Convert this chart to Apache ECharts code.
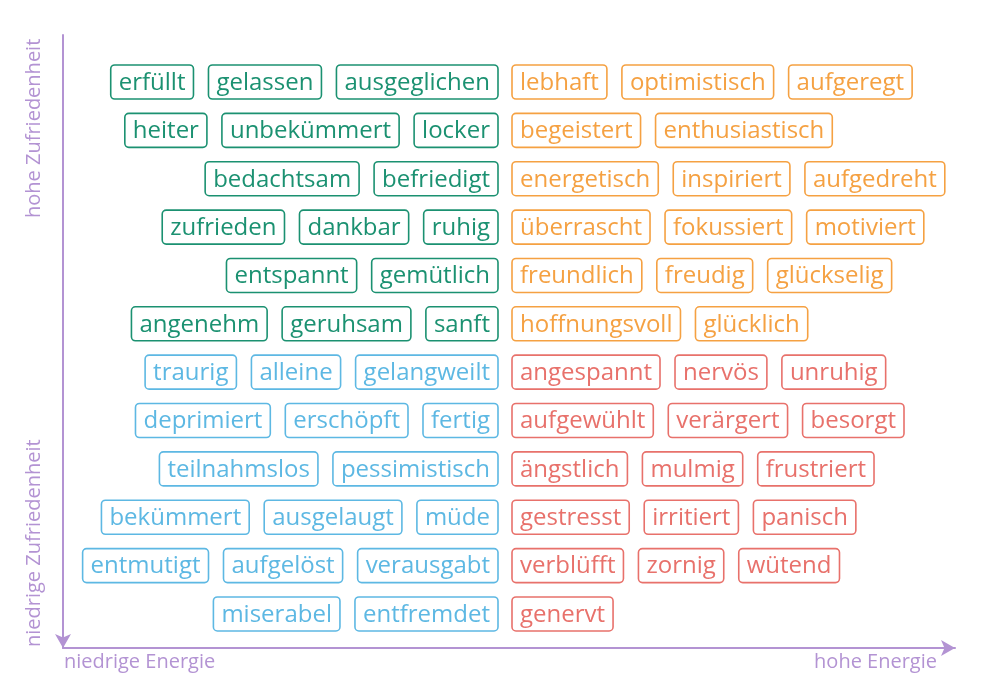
<!DOCTYPE html>
<html><head><meta charset="utf-8">
<script src="https://cdn.jsdelivr.net/npm/echarts@6/dist/echarts.min.js"></script>
<style>html,body{margin:0;background:#fff}#c{width:1000px;height:700px}</style>
</head><body><div id="c"></div>
<script>
// rows top to bottom: words left of centre (low energy), words right of centre (high energy)
var leftRows = [
  ['erfüllt', 'gelassen', 'ausgeglichen'],
  ['heiter', 'unbekümmert', 'locker'],
  ['bedachtsam', 'befriedigt'],
  ['zufrieden', 'dankbar', 'ruhig'],
  ['entspannt', 'gemütlich'],
  ['angenehm', 'geruhsam', 'sanft'],
  ['traurig', 'alleine', 'gelangweilt'],
  ['deprimiert', 'erschöpft', 'fertig'],
  ['teilnahmslos', 'pessimistisch'],
  ['bekümmert', 'ausgelaugt', 'müde'],
  ['entmutigt', 'aufgelöst', 'verausgabt'],
  ['miserabel', 'entfremdet']
];
var rightRows = [
  ['lebhaft', 'optimistisch', 'aufgeregt'],
  ['begeistert', 'enthusiastisch'],
  ['energetisch', 'inspiriert', 'aufgedreht'],
  ['überrascht', 'fokussiert', 'motiviert'],
  ['freundlich', 'freudig', 'glückselig'],
  ['hoffnungsvoll', 'glücklich'],
  ['angespannt', 'nervös', 'unruhig'],
  ['aufgewühlt', 'verärgert', 'besorgt'],
  ['ängstlich', 'mulmig', 'frustriert'],
  ['gestresst', 'irritiert', 'panisch'],
  ['verblüfft', 'zornig', 'wütend'],
  ['genervt']
];
var colors = { green: '#1b9171', orange: '#f5a142', blue: '#5db8e3', red: '#e8716b' };
var axisColor = '#b393d3';
var centreX = 442; // energy midpoint on the x scale
var font = '24px "Open Sans", Roboto, sans-serif';

var data = [];
for (var r = 0; r < leftRows.length; r++) {
  data.push([r, 0, leftRows[r].join('|')]);
  data.push([r, 1, rightRows[r].join('|')]);
}

var ctx = document.createElement('canvas').getContext('2d');
ctx.font = font;
var padX = 8, gap = 15, boxH = 34;

function renderItem(params, api) {
  var row = api.value(0), side = api.value(1);
  var words = rightRows[row];
  if (side === 0) words = leftRows[row];
  var mid = api.coord([centreX, row]);
  var col;
  if (row < 6) col = side === 0 ? colors.green : colors.orange;
  else col = side === 0 ? colors.blue : colors.red;
  var kids = [];
  var widths = words.map(function (w) { return ctx.measureText(w).width + padX * 2; });
  var x;
  if (side === 0) {
    x = mid[0] - 7;
    for (var i = words.length - 1; i >= 0; i--) { x -= widths[i]; pushBox(x, i); x -= gap; }
  } else {
    x = mid[0] + 7;
    for (var j = 0; j < words.length; j++) { pushBox(x, j); x += widths[j] + gap; }
  }
  function pushBox(bx, k) {
    kids.push({ type: 'rect', shape: { x: bx, y: mid[1] - boxH / 2, width: widths[k], height: boxH, r: 4 },
      style: { fill: '#fff', stroke: col, lineWidth: 1.6 } });
    kids.push({ type: 'text', style: { x: bx + widths[k] / 2, y: mid[1] + 1, text: words[k], font: font,
      fill: col, align: 'center', verticalAlign: 'middle' } });
  }
  return { type: 'group', children: kids };
}

var chart = echarts.init(document.getElementById('c'));
chart.setOption({
  animation: false,
  grid: { left: 63, right: 45, top: 35, bottom: 52 },
  xAxis: { type: 'value', min: 0, max: 892, splitLine: { show: false }, axisTick: { show: false }, axisLabel: { show: false },
    axisLine: { onZero: false, lineStyle: { color: axisColor, width: 2 }, symbol: ['none', 'arrow'], symbolSize: [12, 14] } },
  yAxis: { type: 'value', inverse: true, min: -0.972, max: 11.704, splitLine: { show: false }, axisTick: { show: false }, axisLabel: { show: false },
    axisLine: { onZero: false, lineStyle: { color: axisColor, width: 2 }, symbol: ['arrow', 'none'], symbolSize: [12, 14] } },
  graphic: [
    { type: 'text', left: 64, top: 652, style: { text: 'niedrige Energie', font: '20px "Open Sans", sans-serif', fill: axisColor } },
    { type: 'text', right: 63, top: 652, style: { text: 'hohe Energie', font: '20px "Open Sans", sans-serif', fill: axisColor } },
    { type: 'text', x: 34, y: 647, rotation: Math.PI / 2, style: { text: 'niedrige Zufriedenheit', font: '20px "Open Sans", sans-serif', fill: axisColor, align: 'left', verticalAlign: 'middle' } },
    { type: 'text', x: 34, y: 218, rotation: Math.PI / 2, style: { text: 'hohe Zufriedenheit', font: '20px "Open Sans", sans-serif', fill: axisColor, align: 'left', verticalAlign: 'middle' } }
  ],
  series: [{ type: 'custom', renderItem: renderItem, data: data, clip: false }]
});
</script></body></html>
